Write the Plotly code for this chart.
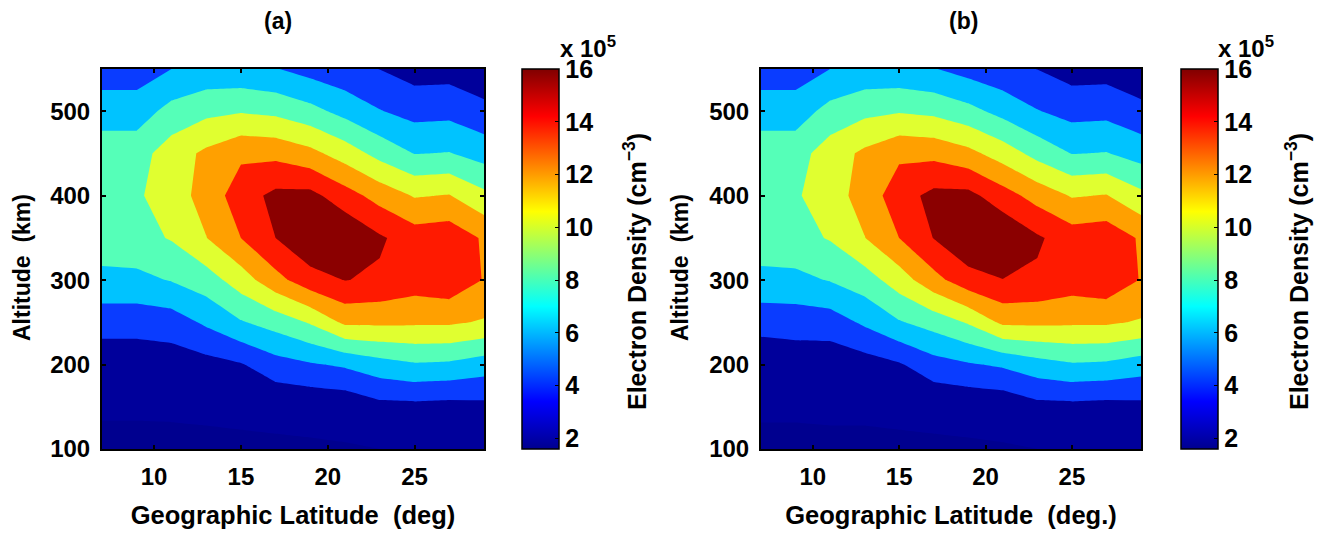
import plotly.graph_objects as go

latitude = [7, 9, 11, 13, 15, 17, 19, 21, 23, 25, 27, 29]
altitude = [100, 150, 200, 250, 300, 350, 400, 450, 500, 550]

# electron density (x 10^5 cm^-3), one row per altitude, low to high
density_a = [
    [1.4, 1.4, 1.3, 1.5, 1.5, 1.83, 1.85, 1.9, 2.0, 2.0, 2.05, 2.1],
    [2.3, 2.3, 2.4, 2.4, 2.6, 2.3, 2.4, 2.53, 3.4, 3.45, 3.3, 3.45],
    [2.75, 2.75, 2.96, 3.3, 3.85, 5.2, 5.8, 6.3, 7.2, 7.8, 7.65, 7.0],
    [4.8, 4.8, 5.0, 6.33, 7.83, 8.83, 10.2, 12.4, 12.4, 12.3, 12.3, 11.8],
    [7.5, 7.5, 8.1, 9.05, 11.0, 13.33, 15.2, 16.05, 15.7, 15.0, 15.4, 13.9],
    [9.0, 9.3, 10.15, 11.95, 14.0, 16.0, 17.68, 17.8, 16.27, 15.0, 15.27, 13.76],
    [9.5, 9.7, 11.1, 12.7, 15.1, 16.5, 16.6, 14.87, 13.23, 11.85, 12.1, 10.5],
    [9.17, 9.17, 11.0, 12.4, 13.6, 13.45, 12.57, 11.08, 9.33, 7.94, 8.1, 7.18],
    [7.0, 7.0, 8.68, 9.5, 9.84, 9.53, 8.64, 7.35, 6.1, 5.3, 5.4, 4.6],
    [5.0, 5.0, 6.0, 6.6, 6.5, 6.1, 5.25, 4.6, 3.97, 3.15, 3.2, 2.5],
]
density_b = [
    [1.5, 1.5, 1.5, 1.5, 1.5, 1.83, 1.85, 1.9, 2.0, 2.0, 2.05, 2.1],
    [2.3, 2.3, 2.4, 2.4, 2.6, 2.3, 2.4, 2.53, 3.4, 3.45, 3.3, 3.45],
    [2.65, 2.85, 2.75, 3.1, 3.8, 5.2, 5.8, 6.3, 7.2, 7.8, 7.65, 7.0],
    [4.7, 4.85, 5.0, 6.33, 7.83, 8.83, 10.2, 12.4, 12.4, 12.3, 12.3, 11.8],
    [7.5, 7.5, 8.1, 9.05, 11.0, 13.33, 15.2, 15.95, 15.7, 15.0, 15.4, 13.9],
    [9.0, 9.3, 10.15, 11.95, 14.0, 16.05, 17.68, 17.8, 16.27, 15.0, 15.27, 13.76],
    [9.5, 9.75, 11.15, 12.75, 15.15, 16.55, 16.6, 14.87, 13.23, 11.85, 12.1, 10.5],
    [9.17, 9.17, 11.0, 12.4, 13.6, 13.45, 12.57, 11.08, 9.33, 7.94, 8.1, 7.18],
    [7.0, 7.0, 8.68, 9.5, 9.84, 9.53, 8.64, 7.35, 6.1, 5.3, 5.4, 4.6],
    [5.0, 5.0, 6.0, 6.6, 6.5, 6.1, 5.25, 4.6, 3.97, 3.15, 3.2, 2.5],
]

x_ticks = [10, 15, 20, 25]
y_ticks = [100, 200, 300, 400, 500]
bar_ticks = [2, 4, 6, 8, 10, 12, 14, 16]

W, H = 1324, 534
FONT = "Liberation Sans"

band_colors = ["#00008f", "#00009b", "#0a3cff", "#00c3ff", "#55ffb8",
               "#e0ff30", "#ffa000", "#ff1a00", "#8b0000"]
band_scale = [[i / (len(band_colors) - 1), c] for i, c in enumerate(band_colors)]
jet = [[0, "#00008f"], [0.125, "#0000ff"], [0.375, "#00ffff"],
       [0.625, "#ffff00"], [0.875, "#ff0000"], [1, "#800000"]]

panels = [
    dict(z=density_a, xa="x", ya="y", left=102, right=484, bar=522, title="(a)",
         title_x=278, xlabel="Geographic Latitude  (deg)", unit_x=559, cb_x=635, y_title=22),
    dict(z=density_b, xa="x2", ya="y2", left=761, right=1141, bar=1181, title="(b)",
         title_x=963, xlabel="Geographic Latitude  (deg.)", unit_x=1217, cb_x=1297, y_title=680),
]
TOP, BOTTOM = 69, 449

fig = go.Figure()
annotations = []
layout_axes = {}
for i, p in enumerate(panels):
    suffix = "" if i == 0 else "2"
    fig.add_trace(go.Contour(
        x=latitude, y=altitude, z=p["z"], xaxis=p["xa"], yaxis=p["ya"],
        zauto=False, zmin=1, zmax=17, colorscale=band_scale, showscale=False,
        contours=dict(start=2, end=16, size=2, coloring="fill", showlines=False),
        line=dict(width=0, smoothing=0), hoverinfo="skip",
    ))
    fig.add_trace(go.Scatter(
        x=[latitude[0]], y=[altitude[0]], xaxis=p["xa"], yaxis=p["ya"],
        mode="markers", hoverinfo="skip", showlegend=False,
        marker=dict(
            size=1, opacity=0, color=[2], colorscale=jet, cmin=1.6, cmax=16,
            showscale=True,
            colorbar=dict(
                x=p["bar"] / W, xanchor="left", xpad=0, ypad=0,
                y=1 - BOTTOM / H, yanchor="bottom",
                lenmode="pixels", len=BOTTOM - TOP,
                thicknessmode="pixels", thickness=37,
                outlinecolor="black", outlinewidth=1.5,
                tickmode="array", tickvals=bar_ticks, ticktext=[str(t) for t in bar_ticks],
                ticks="inside", ticklen=4, tickwidth=1, tickcolor="black",
                tickfont=dict(family=FONT, size=25, color="black", weight="bold"),
            ),
        ),
    ))
    axis = dict(showgrid=False, zeroline=False, showline=True, linecolor="black", linewidth=2,
                mirror="allticks", ticks="inside", ticklen=4, tickwidth=2, tickcolor="black",
                ticklabelstandoff=5,
                tickfont=dict(family=FONT, size=24, color="black", weight="bold"))
    layout_axes["xaxis" + suffix] = dict(
        axis, domain=[p["left"] / W, p["right"] / W], range=[7, 29], tickvals=x_ticks,
        anchor="y" + suffix,
        title=dict(text=p["xlabel"], standoff=17,
                   font=dict(family=FONT, size=25.5, color="black", weight="bold")),
    )
    layout_axes["yaxis" + suffix] = dict(
        axis, domain=[1 - BOTTOM / H, 1 - TOP / H], range=[100, 550], tickvals=y_ticks,
        anchor="x" + suffix,
    )
    annotations += [
        dict(text="<b>%s</b>" % p["title"], x=p["title_x"] / W, y=1 - 21 / H,
             font=dict(size=23)),
        dict(text="<b>Altitude  (km)</b>", x=p["y_title"] / W, y=1 - 268 / H,
             textangle=-90, font=dict(size=23)),
        dict(text="<b>x 10<sup>5</sup></b>", x=(p["unit_x"] + 29) / W, y=1 - 47 / H,
             font=dict(size=24)),
        dict(text="<b>Electron Density (cm<sup>\u22123</sup>)</b>", x=p["cb_x"] / W, y=1 - 272 / H,
             textangle=-90, font=dict(size=25)),
    ]

for a in annotations:
    a.update(xref="paper", yref="paper", showarrow=False, xanchor="center", yanchor="middle")
    a["font"].update(family=FONT, color="black")

fig.update_layout(
    width=W, height=H, autosize=False, showlegend=False,
    paper_bgcolor="white", plot_bgcolor="white",
    margin=dict(l=0, r=0, t=0, b=0, pad=0, autoexpand=False),
    annotations=annotations, **layout_axes,
)

fig.write_html("out.html", config={"displayModeBar": False},
               post_script="document.body.style.margin='0';")
